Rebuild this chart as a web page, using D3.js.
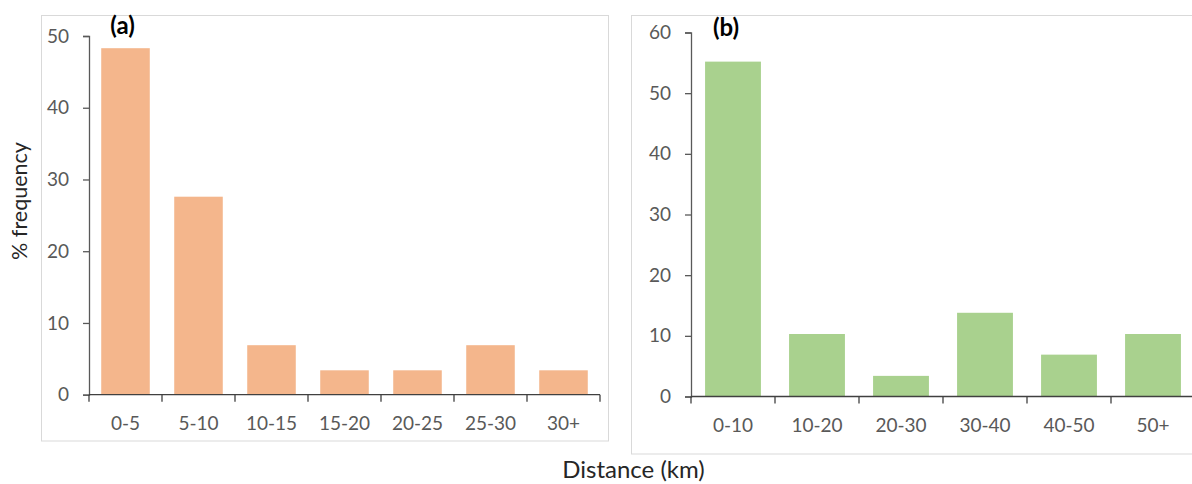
<!DOCTYPE html>
<html>
<head>
<meta charset="utf-8">
<script src="https://cdn.jsdelivr.net/npm/d3@7"></script>
<style>
  html, body { margin: 0; padding: 0; background: #ffffff; }
  svg { display: block; }
</style>
</head>
<body>
<svg id="chart" width="1192" height="484"></svg>
<script>
// ---- Data ----
const categoriesA = ["0-5", "5-10", "10-15", "15-20", "20-25", "25-30", "30+"];
const valuesA = [48.3, 27.6, 6.9, 3.4, 3.4, 6.9, 3.4];
const ticksA = [0, 10, 20, 30, 40, 50];

const categoriesB = ["0-10", "10-20", "20-30", "30-40", "40-50", "50+"];
const valuesB = [55.2, 10.3, 3.4, 13.8, 6.9, 10.3];
const ticksB = [0, 10, 20, 30, 40, 50, 60];

const panelLabels = ["(a)", "(b)"];
const yTitle = "% frequency";
const xTitle = "Distance (km)";

// ---- Drawing ----
const svg = d3.select("#chart");
const FONT = "Lato, 'Open Sans', sans-serif";
const tickColor = "#595959";
const axisColor = "#595959";

function panel(cfg) {
  const g = svg.append("g");
  // panel frame
  g.append("rect")
    .attr("x", cfg.frame[0]).attr("y", cfg.frame[1])
    .attr("width", cfg.frame[2]).attr("height", cfg.frame[3])
    .attr("fill", "none").attr("stroke", "#d9d9d9").attr("stroke-width", 1);

  const x = d3.scaleBand().domain(cfg.categories)
    .range([cfg.x0, cfg.x1]).paddingInner(0.335).paddingOuter(0.1675);
  const y = d3.scaleLinear().domain([0, cfg.ymax]).range([cfg.y0, cfg.y1]);

  // bars
  g.append("g").selectAll("rect").data(cfg.values).join("rect")
    .attr("x", (d, i) => x(cfg.categories[i]))
    .attr("y", d => y(d))
    .attr("width", x.bandwidth())
    .attr("height", d => y(0) - y(d))
    .attr("fill", cfg.color);

  // y axis
  const ya = g.append("g").attr("transform", `translate(${cfg.x0},0)`)
    .call(d3.axisLeft(y).tickValues(cfg.ticks).tickSize(6).tickPadding(14).tickFormat(d3.format("d")));
  ya.select(".domain").attr("stroke", axisColor).attr("stroke-width", 1.3);
  ya.selectAll(".tick line").attr("stroke", axisColor).attr("stroke-width", 1.3);
  ya.selectAll(".tick text").attr("fill", tickColor)
    .style("font-family", FONT).style("font-size", "19px");

  // x axis (labels at band centres, ticks at band boundaries)
  const xa = g.append("g").attr("transform", `translate(0,${cfg.y0})`)
    .call(d3.axisBottom(x).tickSize(0).tickPadding(22));
  xa.select(".domain").remove();
  xa.selectAll(".tick text").attr("fill", tickColor)
    .style("font-family", FONT).style("font-size", "19px");
  const step = x.step();
  const bounds = d3.range(cfg.categories.length + 1).map(i => cfg.x0 + i * step);
  xa.append("line").attr("x1", cfg.x0).attr("x2", cfg.x1).attr("y1", 0).attr("y2", 0)
    .attr("stroke", "#404040").attr("stroke-width", 1.3);
  xa.selectAll("line.bt").data(bounds).join("line").attr("class", "bt")
    .attr("x1", d => d).attr("x2", d => d).attr("y1", 0).attr("y2", 7)
    .attr("stroke", "#404040").attr("stroke-width", 1.3);

  // panel label
  g.append("text").attr("x", cfg.labelX).attr("y", cfg.labelY)
    .attr("text-anchor", "middle")
    .style("font-family", FONT).style("font-weight", "bold").style("font-size", "24px")
    .attr("fill", "#000").text(cfg.label);
}

panel({
  categories: categoriesA, values: valuesA, ticks: ticksA, ymax: 50,
  x0: 89, x1: 600, y0: 394.7, y1: 36,
  frame: [41.5, 15.5, 567, 425.5],
  color: "#F4B68C", label: panelLabels[0], labelX: 122.5, labelY: 34
});

panel({
  categories: categoriesB, values: valuesB, ticks: ticksB, ymax: 60,
  x0: 691, x1: 1195, y0: 396.5, y1: 32.5,
  frame: [631.5, 15.5, 600, 438.5],
  color: "#A9D18E", label: panelLabels[1], labelX: 726, labelY: 36
});

// axis titles
svg.append("text")
  .attr("transform", "translate(27,201) rotate(-90)")
  .attr("text-anchor", "middle")
  .style("font-family", FONT).style("font-size", "21.5px").attr("fill", "#262626")
  .text(yTitle);

svg.append("text")
  .attr("x", 633.5).attr("y", 478)
  .attr("text-anchor", "middle")
  .style("font-family", FONT).style("font-size", "24px").attr("fill", "#262626")
  .text(xTitle);
</script>
</body>
</html>
